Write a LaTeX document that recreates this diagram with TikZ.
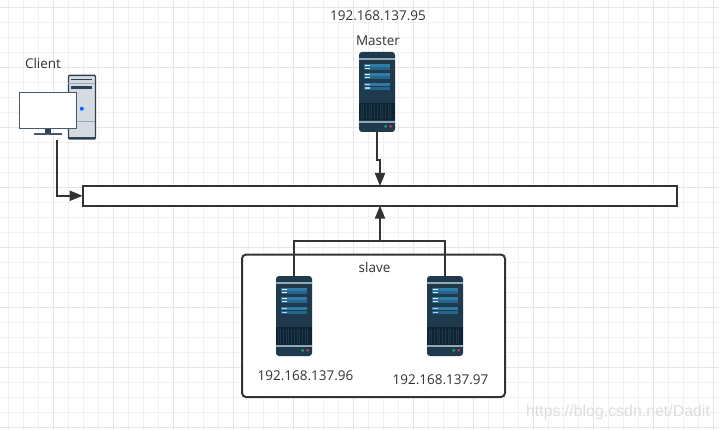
\documentclass[tikz,border=0pt]{standalone}
\usepackage{fontspec}
\setmainfont{Open Sans}
\newfontfamily\markfont{Liberation Sans}
\usetikzlibrary{arrows.meta}
\definecolor{gridminor}{HTML}{F1F1F1}
\definecolor{gridmajor}{HTML}{E5E5E5}
\definecolor{ink}{HTML}{333333}
\definecolor{srvbody}{HTML}{1F3A4C}
\definecolor{srvbar}{HTML}{2F7BA8}
\definecolor{srvbardark}{HTML}{266489}
\definecolor{srvline}{HTML}{94A8B4}
\definecolor{srvgrille}{HTML}{0E2433}
\definecolor{pcedge}{HTML}{2C4254}
\definecolor{pcface}{HTML}{D5DBE1}
\definecolor{pcscreen}{HTML}{465A6B}
\definecolor{mark}{HTML}{DDDDDD}
\definecolor{ledgreen}{HTML}{2E9E6B}
\definecolor{ledred}{HTML}{C23A5A}
\tikzset{
  link/.style={draw=ink,line width=2pt,line join=miter},
  tipped/.style={link,-{Triangle[length=13pt,width=10pt]}},
  serverbox/.style={fill=srvbody,rounded corners=3pt,minimum width=36pt,minimum height=80pt,inner sep=0pt,outer sep=0pt},
  lbl/.style={text=ink,font=\fontsize{13.5}{16}\selectfont,inner sep=0pt},
  box/.style={draw=ink,line width=2pt,fill=white,inner sep=0pt,outer sep=0pt}
}
\newcommand{\srvrow}[2]{%
  \fill[srvbar] (5,#1) rectangle (31,#1+3);
  \fill[srvbardark] (5,#1+3.6) rectangle (31,#1+6.6);
  \fill[#2] (5.7,#1+0.9) rectangle (11,#1+2.1);
  \fill[#2] (5.7,#1+4.5) rectangle (11,#1+5.7);
}
\newcommand{\srvdetail}[1]{%
  \begin{scope}[shift={(#1.north west)}]
    \fill[srvline] (0,6.3) rectangle (36,7.8);
    \srvrow{11.7}{white!90!srvbar}
    \srvrow{20.7}{white!90!srvbar}
    \srvrow{31}{white!65!srvbar}
    \fill[srvgrille] (0,51.3) rectangle (36,68.5);
    \foreach \g in {2,4.7,...,34} {\draw[srvbody,line width=0.7pt] (\g,52.5) -- (\g,67.5);}
    \fill[srvline] (0,69) rectangle (36,71);
    \fill[ledgreen] (26.7,74.3) circle (1.5);
    \fill[ledred] (31.7,74.3) circle (1.5);
  \end{scope}
}
\begin{document}
\begin{tikzpicture}[x=1pt,y=-1pt]
\useasboundingbox (0,0) rectangle (719,430);
\fill[white] (0,0) rectangle (719,430);
\foreach \k in {0,...,47} {\draw[gridminor,line width=1pt] ({8.3+15*\k},0) -- ({8.3+15*\k},430);}
\foreach \k in {0,...,28} {\draw[gridminor,line width=1pt] (0,{7.5+15*\k}) -- (719,{7.5+15*\k});}
\foreach \k in {0,...,11} {\draw[gridmajor,line width=1pt] ({53.3+60*\k},0) -- ({53.3+60*\k},430);}
\foreach \k in {0,...,7} {\draw[gridmajor,line width=1pt] (0,{7.5+60*\k}) -- (719,{7.5+60*\k});}

% slave group and bus
\node[box,rounded corners=4pt,minimum width=263pt,minimum height=142.4pt] (group) at (373.5,325.8) {};
\node[box,minimum width=594.6pt,minimum height=19.6pt] (bus) at (380,195.8) {};

% client
\node[fill=pcface,draw=pcedge,line width=1.4pt,rounded corners=1pt,minimum width=27pt,minimum height=63.5pt,inner sep=0pt] (tower) at (82,107.2) {};
\begin{scope}[shift={(tower.north west)}]
  \draw[pcedge,line width=1.2pt] (3.5,4.8) -- (24,4.8);
  \draw[srvline,line width=0.8pt] (0,8.3) -- (27,8.3);
  \fill[pcedge] (3.5,11) rectangle (24,14.3);
  \fill[blue!60!cyan] (14,34) circle (2);
  \draw[srvline,line width=1pt] (0,46.3) -- (27,46.3);
  \fill[pcedge] (0,61.8) rectangle (27,63.5);
\end{scope}
\fill[pcedge] (45,128) rectangle (51,133.5);
\fill[pcscreen] (34,133.5) rectangle (62,135);
\node[fill=white,draw=pcscreen,line width=1.1pt,minimum width=57pt,minimum height=36pt,inner sep=0pt] (monitor) at (48,110.3) {};
\coordinate (clientout) at (56.7,140);

% servers
\node[serverbox] (master) at (377,92) {};
\node[serverbox] (slaveA) at (294,316) {};
\node[serverbox] (slaveB) at (445,316) {};
\srvdetail{master}
\srvdetail{slaveA}
\srvdetail{slaveB}

% connectors
\coordinate (jog) at (380,160);
\coordinate (join) at (380,241.3);
\draw[tipped] (clientout) |- (bus.west);
\draw[tipped] (master.south) |- (jog) -- (bus.north);
\draw[link] (slaveA.north) |- (join) -| (slaveB.north);
\draw[tipped] (join) -- (bus.south);

% labels
\node[lbl] (ipm) at (378,16) {192.168.137.95};
\node[lbl] (lm) at (378,41) {Master};
\node[lbl] (lc) at (43,63.5) {Client};
\node[lbl] (ls) at (374.5,267) {slave};
\node[lbl] (ipa) at (305.5,376) {192.168.137.96};
\node[lbl] (ipb) at (440.5,380) {192.168.137.97};
\node[text=mark,font=\markfont\fontsize{15.9}{18}\selectfont,inner sep=0pt] (wm) at (618,412) {https://blog.csdn.net/Dadit};
\end{tikzpicture}
\end{document}
